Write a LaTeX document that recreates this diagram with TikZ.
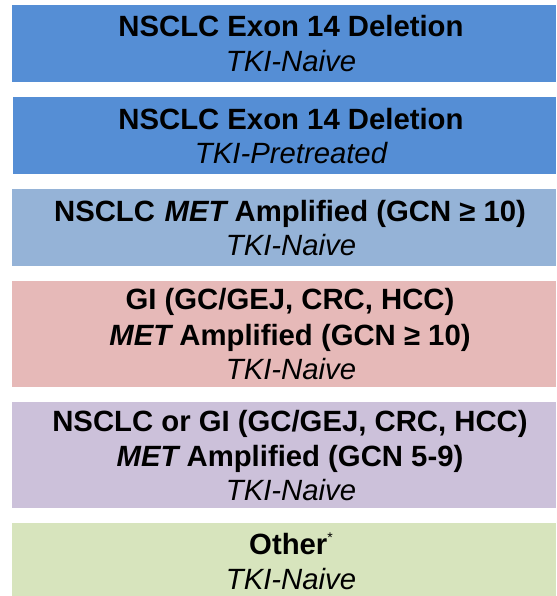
\documentclass[tikz,border=0pt]{standalone}
\usepackage{fontspec}
\setmainfont{Liberation Sans}
\definecolor{bandblue}{RGB}{85,142,213}
\definecolor{bandsky}{RGB}{149,179,215}
\definecolor{bandrose}{RGB}{230,185,184}
\definecolor{bandlilac}{RGB}{204,193,218}
\definecolor{bandgreen}{RGB}{215,228,189}
\newcommand{\metgene}{{\itshape MET}}
\begin{document}
\begin{tikzpicture}[x=1pt,y=-1pt,
  band/.style={fill=#1,draw=none},
  txt/.style={anchor=base,inner sep=0pt,text=black,
    font=\fontsize{29.3}{35}\selectfont},
  head/.style={txt,font=\fontsize{29.3}{35}\selectfont\bfseries},
  sub/.style={txt,font=\fontsize{29.3}{35}\selectfont\itshape}]
\useasboundingbox (0,0) rectangle (556,596);

% coloured bands
\path[band=bandblue]  (12,5)   rectangle (556,82);
\path[band=bandblue]  (13,97)  rectangle (556,174);
\path[band=bandsky]   (12,189) rectangle (556,266);
\path[band=bandrose]  (12,281) rectangle (556,387);
\path[band=bandlilac] (12,402) rectangle (556,508);
\path[band=bandgreen] (12,523) rectangle (556,596);

% band texts
\node[head] (a1) at (291,36.7) {NSCLC Exon 14 Deletion};
\node[sub]  (a2) at (291,71.7) {TKI-Naive};

\node[head] (b1) at (291,129.3) {NSCLC Exon 14 Deletion};
\node[sub]  (b2) at (291,164)   {TKI-Pretreated};

\node[head] (c1) at (290,221.7) {NSCLC\hspace{0.33em}\metgene\ Amplified (GCN ≥ 10)};
\node[sub]  (c2) at (291,255)   {TKI-Naive};

\node[head] (d1) at (290,309) {GI (GC/GEJ, CRC, HCC)};
\node[head] (d2) at (290,345) {\metgene\ Amplified (GCN ≥ 10)};
\node[sub]  (d3) at (291,379) {TKI-Naive};

\node[head] (e1) at (290,431.7) {NSCLC or GI (GC/GEJ, CRC, HCC)};
\node[head] (e2) at (290,466)   {\metgene\ Amplified (GCN 5-9)};
\node[sub]  (e3) at (291,500)   {TKI-Naive};

\node[head] (f1) at (291,554.3) {Other\raisebox{12pt}{\fontsize{14}{14}\selectfont\mdseries *}};
\node[sub]  (f2) at (291,589)   {TKI-Naive};
\end{tikzpicture}
\end{document}
